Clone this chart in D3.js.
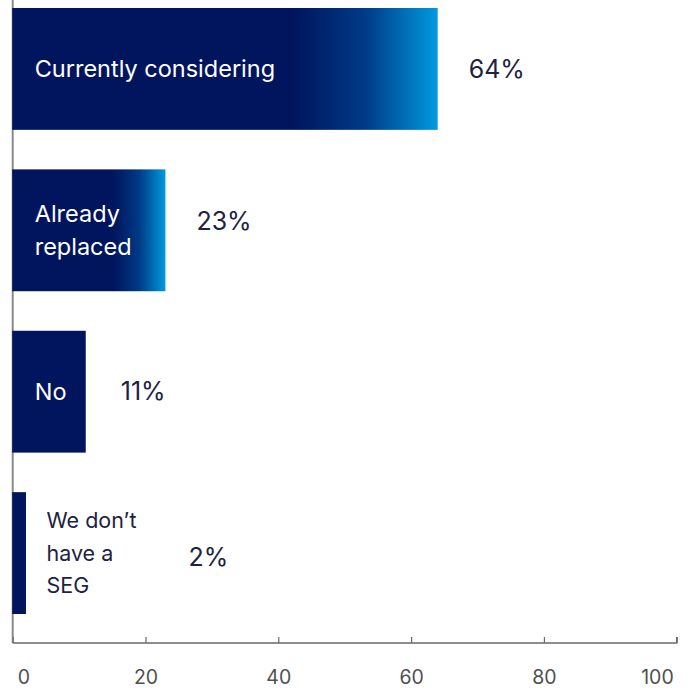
<!DOCTYPE html>
<html>
<head>
<meta charset="utf-8">
<script src="https://cdn.jsdelivr.net/npm/d3@7"></script>
<style>
  html, body { margin: 0; padding: 0; background: #fff; }
  svg { display: block; }
</style>
</head>
<body>
<svg id="chart" width="688" height="690"></svg>
<script>
// Survey answers, share of respondents (%)
const categories = ["Currently considering", "Already replaced", "No", "We don’t have a SEG"];
const labelLines = [["Currently considering"], ["Already", "replaced"], ["No"], ["We don’t", "have a", "SEG"]];
const values = [64, 23, 11, 2];
const valueLabels = ["64%", "23%", "11%", "2%"];
const tickValues = [0, 20, 40, 60, 80, 100];
const tickLabels = ["0", "20", "40", "60", "80", "100"];

const NAVY = "#00155e";
const BLUE = "#009ade";
const FONT = "Inter, 'Noto Sans', sans-serif";

const svg = d3.select("#chart");

const x = d3.scaleLinear().domain([0, 100]).range([12.7, 676.7]);
const y = d3.scaleBand().domain(categories).range([8, 614]).paddingInner(0.245).paddingOuter(0);
const axisY = 643;

// Gradient used on the two leading bars: navy fading to bright blue at the end
const defs = svg.append("defs");
const grad = defs.append("linearGradient")
  .attr("id", "barGrad")
  .attr("x1", "0").attr("y1", "0").attr("x2", "1").attr("y2", "0");
grad.append("stop").attr("offset", "0").attr("stop-color", NAVY);
grad.append("stop").attr("offset", "0.66").attr("stop-color", NAVY);
grad.append("stop").attr("offset", "0.83").attr("stop-color", "#003a86");
grad.append("stop").attr("offset", "1").attr("stop-color", BLUE);

// Vertical baseline at zero
svg.append("line")
  .attr("x1", x(0)).attr("x2", x(0))
  .attr("y1", 0).attr("y2", axisY)
  .attr("stroke", "#8a8a8a").attr("stroke-width", 2);

const xAxis = d3.axisBottom(x)
  .tickValues(tickValues)
  .tickSize(-6)
  .tickFormat((d, i) => tickLabels[i]);

const ax = svg.append("g")
  .attr("transform", `translate(0,${axisY})`)
  .call(xAxis);
ax.select(".domain").attr("stroke", "#6a6a6a").attr("stroke-width", 1.4)
  .attr("d", `M${x(0)},0H${x(100)}V-6`);
ax.selectAll(".tick line").attr("stroke", "#6a6a6a").attr("stroke-width", 1.2);
ax.selectAll(".tick text")
  .attr("y", 41)
  .attr("dy", 0)
  .attr("fill", "#505050")
  .style("font-family", FONT)
  .style("font-size", "19.5px")
  .attr("text-anchor", (d, i) => i === 0 ? "start" : (i === tickValues.length - 1 ? "end" : "middle"))
  .attr("dx", (d, i) => i === 0 ? 4.5 : (i === tickValues.length - 1 ? -3.5 : 0));

// Bars
const rows = svg.append("g").selectAll("g")
  .data(categories)
  .join("g");

rows.append("rect")
  .attr("x", x(0) - 0.5)
  .attr("y", d => y(d))
  .attr("width", (d, i) => x(values[i]) - x(0) + 0.5)
  .attr("height", y.bandwidth())
  .attr("fill", (d, i) => i < 2 ? "url(#barGrad)" : NAVY);

// Category labels: inside the bar when it fits, otherwise just beyond it
const lineH = 32.5;
const fits = values.map(v => v >= 10);
const labelTexts = rows.append("text")
  .attr("x", (d, i) => fits[i] ? x(0) + 22 : x(values[i]) + 20.5)
  .attr("y", (d, i) => y(d) + y.bandwidth() / 2 - (labelLines[i].length - 1) * lineH / 2)
  .attr("fill", (d, i) => fits[i] ? "#ffffff" : "#1c2342")
  .style("font-family", FONT)
  .style("font-size", (d, i) => fits[i] ? "23.5px" : "21.5px");

labelTexts.each(function(d, i) {
  const t = d3.select(this);
  labelLines[i].forEach((line, j) => {
    t.append("tspan")
      .attr("x", t.attr("x"))
      .attr("dy", j === 0 ? "0.35em" : lineH)
      .text(line);
  });
});

// Value labels
rows.append("text")
  .attr("x", function(d, i) {
    if (fits[i]) return x(values[i]) + (i === 2 ? 35 : 31);
    const bb = labelTexts.nodes()[i].getBBox();
    return bb.x + bb.width + 52;
  })
  .attr("y", (d, i) => y(d) + y.bandwidth() / 2 + (i === 1 ? -9 : (i === 3 ? 4 : 0)))
  .attr("dy", "0.35em")
  .attr("fill", "#1c2342")
  .style("font-family", FONT)
  .style("font-size", "25px")
  .text((d, i) => valueLabels[i]);
</script>
</body>
</html>
